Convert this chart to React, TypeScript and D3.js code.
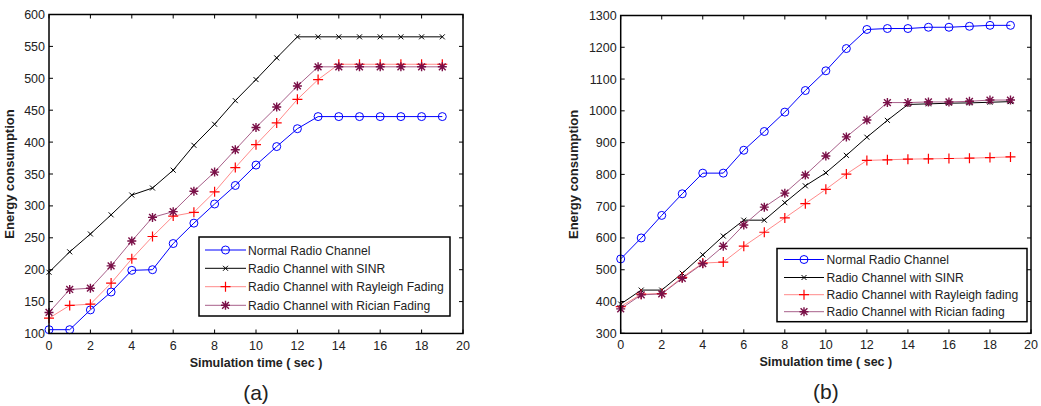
import React from "react";
import * as d3 from "d3";

const times = d3.range(0, 20);
const seriesNames = ["Normal Radio Channel", "Radio Channel with SINR", "Radio Channel with Rayleigh Fading", "Radio Channel with Rician Fading"];
const seriesNamesB = ["Normal Radio Channel", "Radio Channel with SINR", "Radio Channel with Rayleigh fading", "Radio Channel with Rician fading"];

const normalA = [106, 106, 137, 165, 199, 200, 241, 273, 303, 332, 364, 393, 421, 440, 440, 440, 440, 440, 440, 440];
const sinrA = [196, 228, 256, 286, 317, 328, 356, 395, 428, 465, 498, 532, 565, 565, 565, 565, 565, 565, 565, 565];
const rayleighA = [124, 144, 146, 179, 217, 252, 284, 290, 322, 360, 396, 430, 467, 498, 522, 522, 522, 522, 522, 522];
const ricianA = [133, 169, 171, 206, 245, 282, 291, 323, 353, 388, 423, 455, 488, 518, 518, 518, 518, 518, 518, 518];

const normalB = [534, 600, 671, 739, 804, 804, 876, 935, 996, 1064, 1126, 1196, 1256, 1259, 1259, 1263, 1263, 1266, 1269, 1269];
const sinrB = [392, 436, 436, 489, 547, 606, 656, 656, 711, 764, 805, 860, 917, 970, 1020, 1022, 1024, 1025, 1027, 1029];
const rayleighB = [384, 423, 425, 476, 521, 524, 574, 618, 663, 708, 753, 801, 844, 846, 848, 849, 850, 851, 853, 855];
const ricianB = [377, 421, 424, 473, 519, 574, 641, 697, 741, 798, 858, 918, 971, 1026, 1026, 1028, 1028, 1030, 1034, 1034];

const xTicks = d3.range(0, 21, 2);
const yTicksA = d3.range(100, 601, 50);
const yTicksB = d3.range(300, 1301, 100);

const FONT = "Arial, 'Liberation Sans', sans-serif";

type Style = { line: string; mark: string; kind: "o" | "x" | "+" | "*" };
const styles: Style[] = [
  { line: "#0000ff", mark: "#0000ff", kind: "o" },
  { line: "#000000", mark: "#000000", kind: "x" },
  { line: "#ff8a8a", mark: "#ff0000", kind: "+" },
  { line: "#a8608a", mark: "#7a1048", kind: "*" },
];

function Marker({ x, y, s }: { x: number; y: number; s: Style }) {
  if (s.kind === "o") return <circle cx={x} cy={y} r={4} fill="none" stroke={s.mark} strokeWidth={1} />;
  if (s.kind === "x") {
    const h = 2.5;
    return <path d={`M${x - h},${y - h}L${x + h},${y + h}M${x - h},${y + h}L${x + h},${y - h}`} stroke={s.mark} strokeWidth={1} />;
  }
  if (s.kind === "+") {
    const h = 5;
    return <path d={`M${x - h},${y}L${x + h},${y}M${x},${y - h}L${x},${y + h}`} stroke={s.mark} strokeWidth={1.2} />;
  }
  const h = 4.5, d = 3.4;
  return (
    <path
      d={`M${x - h},${y}L${x + h},${y}M${x},${y - h}L${x},${y + h}M${x - d},${y - d}L${x + d},${y + d}M${x - d},${y + d}L${x + d},${y - d}`}
      stroke={s.mark}
      strokeWidth={1.4}
    />
  );
}

type ChartProps = {
  left: number; right: number; top: number; bottom: number;
  yDomain: [number, number]; yTicks: number[];
  data: number[][]; names: string[];
  legend: { x0: number; x1: number; y0: number; y1: number; rows: number[]; lx0: number; lx1: number; tx: number };
  ylabX: number; caption: string;
};

function Chart(p: ChartProps) {
  const x = d3.scaleLinear().domain([0, 20]).range([p.left, p.right]);
  const y = d3.scaleLinear().domain(p.yDomain).range([p.bottom, p.top]);
  const line = d3.line<number>().x((_, i) => x(times[i])).y((v) => y(v));
  const cx = (p.left + p.right) / 2;
  const cy = (p.top + p.bottom) / 2;
  const tl = 4;
  return (
    <g fontFamily={FONT}>
      {xTicks.map((t) => (
        <g key={"xt" + t}>
          <line x1={x(t)} x2={x(t)} y1={p.bottom} y2={p.bottom - tl} stroke="#000" />
          <line x1={x(t)} x2={x(t)} y1={p.top} y2={p.top + tl} stroke="#000" />
          <text x={x(t)} y={p.bottom + 16} textAnchor="middle" fontSize={12.5} fill="#222">{t}</text>
        </g>
      ))}
      {p.yTicks.map((t) => (
        <g key={"yt" + t}>
          <line x1={p.left} x2={p.left + tl} y1={y(t)} y2={y(t)} stroke="#000" />
          <line x1={p.right} x2={p.right - tl} y1={y(t)} y2={y(t)} stroke="#000" />
          <text x={p.left - 4} y={y(t) + 4.5} textAnchor="end" fontSize={12.5} fill="#222">{t}</text>
        </g>
      ))}
      {p.data.map((d, i) => (
        <path key={"l" + i} d={line(d) || ""} fill="none" stroke={styles[i].line} strokeWidth={1} />
      ))}
      {p.data.map((d, i) => (
        <g key={"m" + i}>
          {d.map((v, j) => <Marker key={j} x={x(times[j])} y={y(v)} s={styles[i]} />)}
        </g>
      ))}
      <rect x={p.left} y={p.top} width={p.right - p.left} height={p.bottom - p.top} fill="none" stroke="#000" strokeWidth={1.5} />
      <text transform={`translate(${p.ylabX},${cy}) rotate(-90)`} textAnchor="middle" fontSize={13} fontWeight="bold" fill="#222">Energy consumption</text>
      <text x={cx} y={p.bottom + 33} textAnchor="middle" fontSize={12.5} fontWeight="bold" fill="#222">Simulation time ( sec )</text>
      <text x={cx} y={p.bottom + 66} textAnchor="middle" fontSize={21} fill="#222">{p.caption}</text>
      <rect x={p.legend.x0} y={p.legend.y0} width={p.legend.x1 - p.legend.x0} height={p.legend.y1 - p.legend.y0} fill="#fff" stroke="#000" strokeWidth={1.5} />
      {p.names.map((n, i) => {
        const ry = p.legend.rows[i];
        return (
          <g key={"lg" + i}>
            <line x1={p.legend.lx0} x2={p.legend.lx1} y1={ry} y2={ry} stroke={styles[i].line} strokeWidth={1} />
            <Marker x={(p.legend.lx0 + p.legend.lx1) / 2} y={ry} s={styles[i]} />
            <text x={p.legend.tx} y={ry + 4.5} fontSize={12.1} fill="#222">{n}</text>
          </g>
        );
      })}
    </g>
  );
}

export default function App() {
  return (
    <svg width={1041} height={406} style={{ position: "absolute", left: 0, top: 0, background: "#fff" }}>
      <rect width={1041} height={406} fill="#fff" />
      <Chart
        left={49} right={463} top={14.5} bottom={333.5}
        yDomain={[100, 600]} yTicks={yTicksA}
        data={[normalA, sinrA, rayleighA, ricianA]} names={seriesNames}
        legend={{ x0: 199, x1: 450, y0: 237, y1: 316, rows: [250, 268.3, 286.7, 305.3], lx0: 205, lx1: 246, tx: 248 }}
        ylabX={14} caption="(a)"
      />
      <Chart
        left={620.7} right={1031} top={15.5} bottom={333.3}
        yDomain={[300, 1300]} yTicks={yTicksB}
        data={[normalB, sinrB, rayleighB, ricianB]} names={seriesNamesB}
        legend={{ x0: 777, x1: 1027, y0: 248.5, y1: 321.7, rows: [259.5, 277.5, 294.7, 311.7], lx0: 784, lx1: 824, tx: 826.5 }}
        ylabX={578} caption="(b)"
      />
    </svg>
  );
}
